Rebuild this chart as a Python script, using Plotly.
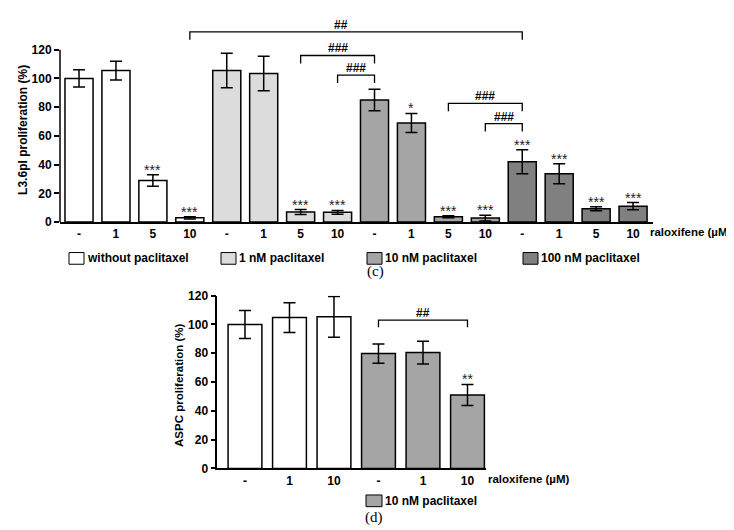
import plotly.graph_objects as go

W, H = 734, 530

# ---------------- data: panel (c) ----------------
top_ticks = ["-", "1", "5", "10", "-", "1", "5", "10",
             "-", "1", "5", "10", "-", "1", "5", "10"]
top_groups = (["without paclitaxel"] * 4 + ["1 nM paclitaxel"] * 4 +
              ["10 nM paclitaxel"] * 4 + ["100 nM paclitaxel"] * 4)
top_values = [100, 105.5, 29, 3, 105.5, 103.5, 7, 6.8,
              85, 69, 3.7, 2.8, 42, 33.7, 9.3, 11.1]
top_errors = [6, 6.5, 4, 0.8, 12, 12, 1.7, 1.3,
              7.5, 6.7, 0.7, 2, 8.3, 7, 1.4, 2.5]
top_sig = ["", "", "***", "***", "", "", "***", "***",
           "", "*", "***", "***", "***", "***", "***", "***"]
# brackets: (from bar, to bar, height, label, label position)
top_brackets = [(3, 12, 132.5, "##", 7.09),
                (6, 8, 116, "###", 7),
                (7, 8, 102.4, "###", 7.5),
                (10, 12, 82.7, "###", 11),
                (11, 12, 68.5, "###", 11.5)]
top_legend = ["without paclitaxel", "1 nM paclitaxel",
              "10 nM paclitaxel", "100 nM paclitaxel"]
top_yticks = [0, 20, 40, 60, 80, 100, 120]

# ---------------- data: panel (d) ----------------
bot_ticks = ["-", "1", "10", "-", "1", "10"]
bot_groups = ["without paclitaxel"] * 3 + ["10 nM paclitaxel"] * 3
bot_values = [100, 104.8, 105.3, 79.8, 80.5, 51]
bot_errors = [9.7, 10.3, 14.1, 6.7, 7.9, 7.3]
bot_sig = ["", "", "", "", "", "**"]
bot_brackets = [(3, 5, 103, "##", 4)]
bot_legend = ["10 nM paclitaxel"]
bot_yticks = [0, 20, 40, 60, 80, 100, 120]

colors = {"without paclitaxel": "#ffffff", "1 nM paclitaxel": "#dcdcdc",
          "10 nM paclitaxel": "#a5a5a5", "100 nM paclitaxel": "#808080"}

FONT = "Liberation Sans, Arial, sans-serif"


def px(x):
    return x / W


def py(y):
    return 1 - y / H


fig = go.Figure()


def add_bars(groups, values, errors, xa, ya):
    for g in dict.fromkeys(groups):
        idx = [i for i, gg in enumerate(groups) if gg == g]
        fig.add_trace(go.Bar(
            x=idx, y=[values[i] for i in idx],
            error_y=dict(type="data", array=[errors[i] for i in idx],
                         color="black", thickness=1.5, width=6),
            marker=dict(color=colors[g], line=dict(color="black", width=1.5)),
            width=0.76, xaxis=xa, yaxis=ya, showlegend=False, name=g))


add_bars(top_groups, top_values, top_errors, "x", "y")
add_bars(bot_groups, bot_values, bot_errors, "x2", "y2")

shapes = []
annotations = []


def add_sig(values, errors, sig, xr, yr):
    for i, s in enumerate(sig):
        if s:
            annotations.append(dict(
                x=i, y=values[i] + errors[i], xref=xr, yref=yr, text=s,
                showarrow=False, yanchor="middle", yshift=5,
                font=dict(family=FONT, size=14, color="#222")))


def add_brackets(brackets, xr, yr, leg):
    for a, b, h, lab, lx in brackets:
        shapes.append(dict(
            type="path", xref=xr, yref=yr,
            path=f"M {a},{h - leg} L {a},{h} L {b},{h} L {b},{h - leg}",
            line=dict(color="black", width=1.3)))
        annotations.append(dict(
            x=lx, y=h, xref=xr, yref=yr, text=lab, showarrow=False,
            yanchor="middle", yshift=7,
            font=dict(family=FONT, size=12, color="black", weight="bold")))


add_sig(top_values, top_errors, top_sig, "x", "y")
add_sig(bot_values, bot_errors, bot_sig, "x2", "y2")
add_brackets(top_brackets, "x", "y", 5.5)
add_brackets(bot_brackets, "x2", "y2", 5)

# y-axis line of panel (c) (axis range extends above 120 for brackets)
shapes.append(dict(type="line", xref="paper", yref="y", x0=px(52), x1=px(52),
                   y0=0, y1=120, line=dict(color="black", width=1.5)))


def add_legend(names, xs, ytop, bw, bh):
    for n, x0 in zip(names, xs):
        shapes.append(dict(type="rect", xref="paper", yref="paper",
                           x0=px(x0), x1=px(x0 + bw), y0=py(ytop + bh), y1=py(ytop),
                           fillcolor=colors[n], line=dict(color="black", width=1)))
        annotations.append(dict(
            x=px(x0 + bw + 2), y=py(ytop + bh / 2), xref="paper", yref="paper",
            text=n, showarrow=False, xanchor="left", yanchor="middle", borderpad=0,
            font=dict(family=FONT, size=12, color="black", weight="bold")))


add_legend(top_legend, [61, 213, 359, 515], 244, 15, 12)
add_legend(bot_legend, [358], 493, 16, 12)


def text(x, y, s, size=12, angle=0, anchor="center", family=FONT, weight="bold"):
    annotations.append(dict(
        x=px(x), y=py(y), xref="paper", yref="paper", text=s, showarrow=False,
        xanchor=anchor, yanchor="middle", textangle=angle, borderpad=0, borderwidth=0,
        font=dict(family=family, size=size, color="black", weight=weight)))


text(15, 118, "L3.6pl proliferation (%)", 12, -90)
text(171, 381, "ASPC proliferation (%)", 11.5, -90)
text(642, 223, "raloxifene (µM)", 11.5, anchor="left")
text(480, 477, "raloxifene (µM)", 11.5, anchor="left")
text(367, 263, "(c)", 15, family="Liberation Serif, serif", weight="normal")
text(366, 516, "(d)", 15, family="Liberation Serif, serif", weight="normal")

tickfont = dict(family=FONT, size=12, color="black", weight="bold")

fig.update_layout(
    width=W, height=H, autosize=False,
    margin=dict(l=0, r=0, t=0, b=0),
    plot_bgcolor="white", paper_bgcolor="white",
    barmode="overlay",
    shapes=shapes, annotations=annotations,
    xaxis=dict(domain=[px(52), px(645)], range=[-0.515, 15.54], anchor="y",
               tickmode="array", tickvals=list(range(len(top_ticks))), ticktext=top_ticks,
               ticks="", showline=True, linecolor="black", linewidth=1.5,
               showgrid=False, zeroline=False, tickfont=tickfont),
    yaxis=dict(domain=[py(212.7), py(6.2)], range=[0, 140], anchor="x",
               tickmode="array", tickvals=top_yticks, ticks="outside", ticklen=5,
               tickwidth=1.5, tickcolor="black", showline=False,
               showgrid=False, zeroline=False, tickfont=tickfont),
    xaxis2=dict(domain=[px(209.3), px(478)], range=[-0.622, 5.416], anchor="y2",
                tickmode="array", tickvals=list(range(len(bot_ticks))), ticktext=bot_ticks,
                ticks="", showline=True, linecolor="black", linewidth=1.5,
                showgrid=False, zeroline=False, tickfont=tickfont),
    yaxis2=dict(domain=[py(465.7), py(288.3)], range=[0, 120], anchor="x2",
                tickmode="array", tickvals=bot_yticks, ticks="outside", ticklen=5,
                tickwidth=1.5, tickcolor="black", showline=True, linecolor="black",
                linewidth=1.5, showgrid=False, zeroline=False, tickfont=tickfont),
)

fig.write_html("out.html")
